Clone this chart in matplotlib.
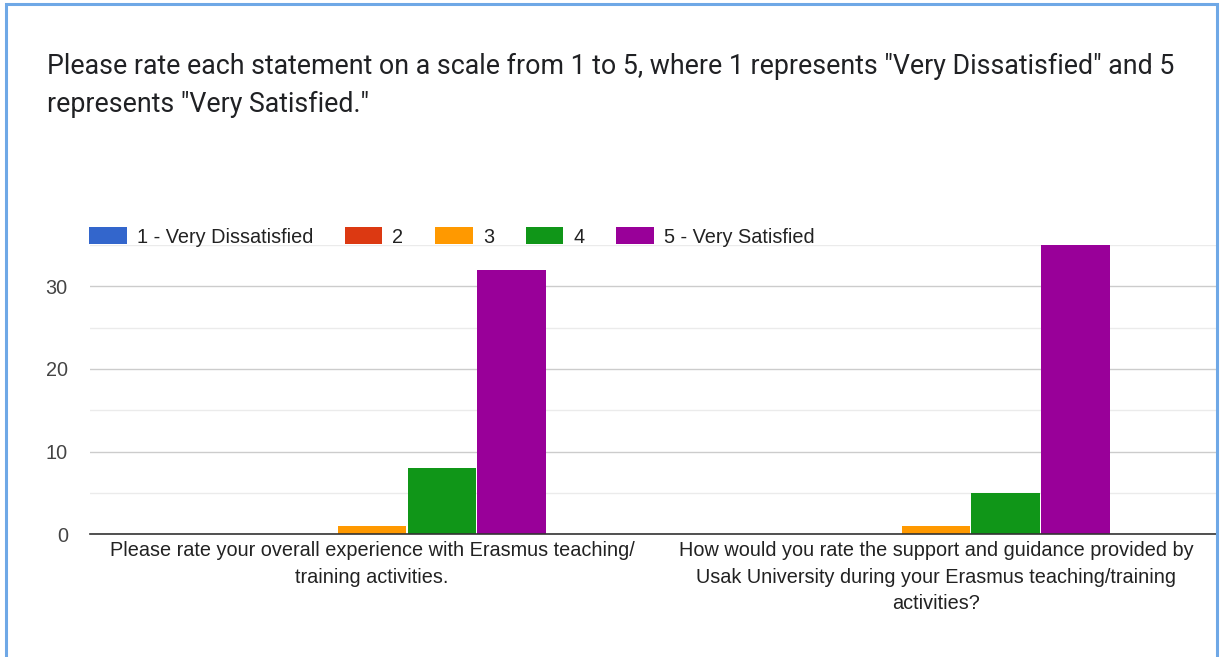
import numpy as np
import matplotlib.pyplot as plt
from matplotlib.patches import Rectangle

# Datos de la encuesta
preguntas = [
    "Please rate your overall experience with Erasmus teaching/\ntraining activities.",
    "How would you rate the support and guidance provided by\nUsak University during your Erasmus teaching/training\nactivities?",
]
niveles = ["1 - Very Dissatisfied", "2", "3", "4", "5 - Very Satisfied"]
muy_insatisfecho = [0, 0]
nivel_2 = [0, 0]
nivel_3 = [1, 1]
nivel_4 = [8, 5]
muy_satisfecho = [32, 35]
colores = ["#3366cc", "#dc3912", "#ff9900", "#109618", "#990099"]

valores = [muy_insatisfecho, nivel_2, nivel_3, nivel_4, muy_satisfecho]

plt.rcParams["font.family"] = ["Liberation Sans", "DejaVu Sans"]

fig = plt.figure(figsize=(12.21, 6.57), dpi=100)
ax = fig.add_axes([0.0737, 0.187, 0.9238, 0.440])

x = np.arange(len(preguntas))
ancho = 0.122
paso = 0.124
for i, (nivel, vals, c) in enumerate(zip(niveles, valores, colores)):
    ax.bar(x + (i - 2) * paso, vals, ancho, color=c, label=nivel, zorder=3)

ax.set_xlim(-0.5, 1.5)
ax.set_ylim(0, 35)
ax.set_yticks([0, 10, 20, 30])
ax.set_yticks([5, 15, 25, 35], minor=True)
ax.grid(axis="y", which="major", color="#cccccc", lw=1, zorder=0)
ax.grid(axis="y", which="minor", color="#ebebeb", lw=1, zorder=0)
ax.set_xticks(x)
ax.set_xticklabels(preguntas, fontsize=14.3, color="#222222", linespacing=1.5)
ax.tick_params(axis="x", length=0, pad=5)
ax.tick_params(axis="y", which="both", length=0, pad=16, labelsize=14.3, labelcolor="#444444")
for lado in ["top", "right", "left"]:
    ax.spines[lado].set_visible(False)
ax.spines["bottom"].set_color("#333333")
ax.spines["bottom"].set_linewidth(1.2)
ax.spines["bottom"].set_zorder(4)

ax.legend(loc="lower left", bbox_to_anchor=(-0.001, 0.995), ncol=5, frameon=False,
          fontsize=14.3, handlelength=1.9, handleheight=0.9, handletextpad=0.5,
          columnspacing=1.6, borderaxespad=0, borderpad=0, labelcolor="#222222")

# Titulo de la pregunta
fig.text(47 / 1221, 1 - 66 / 657,
         "Please rate each statement on a scale from 1 to 5, where 1 represents \"Very Dissatisfied\" and 5",
         fontsize=19.3, family=["Roboto", "DejaVu Sans"], color="#202124", va="center")
fig.text(47 / 1221, 1 - 104 / 657, "represents \"Very Satisfied.\"",
         fontsize=19.3, family=["Roboto", "DejaVu Sans"], color="#202124", va="center")

# Borde azul de la tarjeta
fig.patches.append(Rectangle((6 / 1221, -0.05), (1217 - 6) / 1221, 1.05 - 4 / 657,
                             transform=fig.transFigure, fill=False,
                             edgecolor="#6fa8e6", lw=2.2))

fig.savefig("out.png", dpi=100, facecolor="white")
